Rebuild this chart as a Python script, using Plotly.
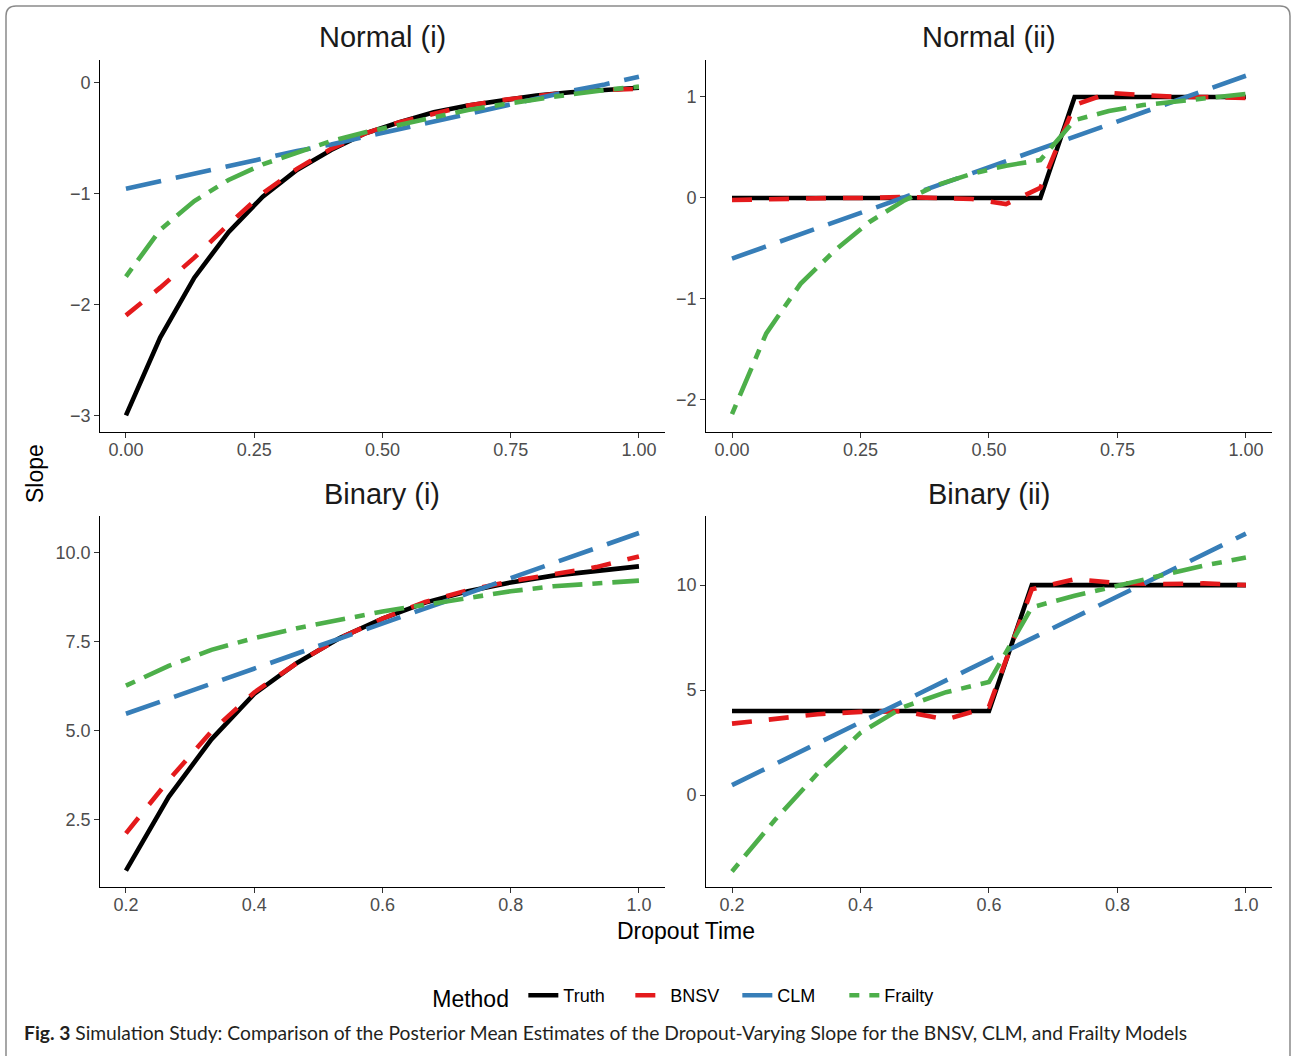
import plotly.graph_objects as go

# ---------------- data ----------------
x_normal = [0.0, 0.0667, 0.1333, 0.2, 0.2667, 0.3333, 0.4, 0.4667, 0.5333,
            0.6, 0.6667, 0.7333, 0.8, 0.8667, 0.9333, 1.0]
x_binary = [0.2, 0.2667, 0.3333, 0.4, 0.4667, 0.5333, 0.6, 0.6667, 0.7333,
            0.8, 0.8667, 0.9333, 1.0]

methods = ["Truth", "BNSV", "CLM", "Frailty"]

# Normal (i)
n1_truth = [-3.00, -2.30, -1.76, -1.35, -1.03, -0.79, -0.61, -0.46, -0.36,
            -0.27, -0.21, -0.16, -0.12, -0.09, -0.07, -0.05]
n1_bnsv = [-2.10, -1.85, -1.58, -1.28, -1.00, -0.78, -0.60, -0.46, -0.36,
           -0.28, -0.21, -0.16, -0.12, -0.09, -0.07, -0.06]
n1_clm = [-0.96, -0.89, -0.83, -0.76, -0.69, -0.62, -0.56, -0.49, -0.42,
          -0.35, -0.29, -0.22, -0.15, -0.08, -0.02, 0.05]
n1_frailty = [-1.75, -1.33, -1.07, -0.88, -0.74, -0.63, -0.53, -0.45, -0.38,
              -0.31, -0.25, -0.20, -0.15, -0.11, -0.07, -0.04]

# Normal (ii)
n2_truth = [0, 0, 0, 0, 0, 0, 0, 0, 0, 0, 1, 1, 1, 1, 1, 1]
n2_bnsv = [-0.02, -0.01, -0.01, 0.00, 0.00, 0.01, 0.00, -0.01, -0.06,
           0.10, 0.92, 1.04, 1.02, 1.00, 1.00, 0.99]
n2_clm = [-0.60, -0.48, -0.36, -0.24, -0.12, 0.00, 0.12, 0.24, 0.37,
          0.49, 0.61, 0.73, 0.85, 0.97, 1.09, 1.21]
n2_frailty = [-2.14, -1.34, -0.85, -0.52, -0.24, -0.03, 0.13, 0.24, 0.32,
              0.375, 0.77, 0.86, 0.92, 0.96, 1.00, 1.03]

# Binary (i)
b1_truth = [1.05, 3.13, 4.75, 6.03, 6.90, 7.60, 8.15, 8.60, 8.92, 9.17,
            9.36, 9.50, 9.62]
b1_bnsv = [2.10, 3.60, 4.97, 6.07, 6.90, 7.60, 8.15, 8.62, 8.95, 9.20,
           9.40, 9.60, 9.90]
b1_clm = [5.47, 5.89, 6.32, 6.74, 7.17, 7.59, 8.02, 8.44, 8.86, 9.29,
          9.71, 10.14, 10.56]
b1_frailty = [6.26, 6.82, 7.27, 7.60, 7.88, 8.12, 8.35, 8.54, 8.73, 8.92,
              9.06, 9.15, 9.22]

# Binary (ii)
b2_truth = [4, 4, 4, 4, 4, 4, 4, 10, 10, 10, 10, 10, 10]
b2_bnsv = [3.40, 3.64, 3.85, 3.96, 3.99, 3.60, 4.20, 9.80, 10.28, 10.10,
           10.05, 10.08, 10.00]
b2_clm = [0.47, 1.47, 2.47, 3.47, 4.46, 5.46, 6.46, 7.46, 8.46, 9.46,
          10.45, 11.45, 12.45]
b2_frailty = [-3.64, -1.19, 1.03, 2.96, 4.19, 4.90, 5.38, 8.94, 9.49, 9.97,
              10.44, 10.92, 11.31]

panel_titles = ["Normal (i)", "Normal (ii)", "Binary (i)", "Binary (ii)"]
normal_xticks = [0, 0.25, 0.5, 0.75, 1.0]
normal_xlabels = ["0.00", "0.25", "0.50", "0.75", "1.00"]
binary_xticks = [0.2, 0.4, 0.6, 0.8, 1.0]
binary_xlabels = ["0.2", "0.4", "0.6", "0.8", "1.0"]
n1_yticks = [-3, -2, -1, 0]
n1_ylabels = ["\u22123", "\u22122", "\u22121", "0"]
n2_yticks = [-2, -1, 0, 1]
n2_ylabels = ["\u22122", "\u22121", "0", "1"]
b1_yticks = [2.5, 5.0, 7.5, 10.0]
b1_ylabels = ["2.5", "5.0", "7.5", "10.0"]
b2_yticks = [0, 5, 10]
b2_ylabels = ["0", "5", "10"]

# ---------------- styles ----------------
W, H = 1292, 1056
FONT = "Liberation Sans, Arial, Helvetica, sans-serif"
colors = {"Truth": "#000000", "BNSV": "#E41A1C", "CLM": "#377EB8", "Frailty": "#4DAF4A"}
dashes = {"Truth": "solid", "BNSV": "20px,17px", "CLM": "36px,15px",
          "Frailty": "10px,10px,30px,10px"}
LW = 4.6

panels = [
    (x_normal, [n1_truth, n1_bnsv, n1_clm, n1_frailty], "x", "y"),
    (x_normal, [n2_truth, n2_bnsv, n2_clm, n2_frailty], "x2", "y2"),
    (x_binary, [b1_truth, b1_bnsv, b1_clm, b1_frailty], "x3", "y3"),
    (x_binary, [b2_truth, b2_bnsv, b2_clm, b2_frailty], "x4", "y4"),
]

fig = go.Figure()
for pi, (xs, series, xa, ya) in enumerate(panels):
    for m, ys in zip(methods, series):
        fig.add_trace(go.Scatter(
            x=xs, y=ys, mode="lines", name=m, xaxis=xa, yaxis=ya,
            line=dict(color=colors[m], width=LW, dash=dashes[m]),
            showlegend=(pi == 0), legendgroup=m,
        ))

def px_x(p):
    return p / W

def px_y(p):
    return 1 - p / H

left_dom = [px_x(100.3), px_x(664.6)]
right_dom = [px_x(706.3), px_x(1271.6)]
top_dom = [px_y(432), px_y(60)]
bot_dom = [px_y(887), px_y(516)]

axis_common = dict(
    showline=True, linecolor="#000000", linewidth=1.3,
    ticks="outside", ticklen=5, tickwidth=1.3, tickcolor="#333333",
    showgrid=False, zeroline=False,
    tickfont=dict(family=FONT, size=18, color="#4D4D4D"),
    fixedrange=True,
)
xaxis_common = dict(axis_common, ticklabelstandoff=-4)

fig.update_layout(
    width=W, height=H,
    margin=dict(l=0, r=0, t=0, b=0),
    paper_bgcolor="white", plot_bgcolor="white",
    xaxis=dict(domain=left_dom, anchor="y", range=[-0.05, 1.05],
               tickvals=normal_xticks, ticktext=normal_xlabels, **xaxis_common),
    yaxis=dict(domain=top_dom, anchor="x", range=[-3.15, 0.2],
               tickvals=n1_yticks, ticktext=n1_ylabels, **axis_common),
    xaxis2=dict(domain=right_dom, anchor="y2", range=[-0.05, 1.05],
                tickvals=normal_xticks, ticktext=normal_xlabels, **xaxis_common),
    yaxis2=dict(domain=top_dom, anchor="x2", range=[-2.317, 1.366],
                tickvals=n2_yticks, ticktext=n2_ylabels, **axis_common),
    xaxis3=dict(domain=left_dom, anchor="y3", range=[0.16, 1.04],
                tickvals=binary_xticks, ticktext=binary_xlabels, **xaxis_common),
    yaxis3=dict(domain=bot_dom, anchor="x3", range=[0.59, 11.04],
                tickvals=b1_yticks, ticktext=b1_ylabels, **axis_common),
    xaxis4=dict(domain=right_dom, anchor="y4", range=[0.16, 1.04],
                tickvals=binary_xticks, ticktext=binary_xlabels, **xaxis_common),
    yaxis4=dict(domain=bot_dom, anchor="x4", range=[-4.38, 13.29],
                tickvals=b2_yticks, ticktext=b2_ylabels, **axis_common),
    legend=dict(
        orientation="h", x=0.535, xanchor="center", y=px_y(997), yanchor="middle",
        title=dict(text="Method ", font=dict(family=FONT, size=23, color="#000000")),
        font=dict(family=FONT, size=18, color="#000000"),
        bgcolor="rgba(0,0,0,0)", itemwidth=30,
        entrywidth=62, entrywidthmode="pixels",
    ),
    showlegend=True,
)

annotations = []
title_pos = [((left_dom[0] + left_dom[1]) / 2, px_y(37)),
             ((right_dom[0] + right_dom[1]) / 2, px_y(37)),
             ((left_dom[0] + left_dom[1]) / 2, px_y(494)),
             ((right_dom[0] + right_dom[1]) / 2, px_y(494))]
for t, (ax, ay) in zip(panel_titles, title_pos):
    annotations.append(dict(text=t, x=ax, y=ay, xref="paper", yref="paper",
                            xanchor="center", yanchor="middle", showarrow=False,
                            font=dict(family=FONT, size=29, color="#1A1A1A")))
annotations.append(dict(text="Slope", x=px_x(35), y=px_y(474), xref="paper", yref="paper",
                        xanchor="center", yanchor="middle", showarrow=False, textangle=-90,
                        font=dict(family=FONT, size=23, color="#000000")))
annotations.append(dict(text="Dropout Time", x=px_x(686), y=px_y(931), xref="paper", yref="paper",
                        xanchor="center", yanchor="middle", showarrow=False,
                        font=dict(family=FONT, size=23, color="#000000")))
annotations.append(dict(
    text="<b>Fig. 3</b> Simulation Study: Comparison of the Posterior Mean Estimates of the "
         "Dropout-Varying Slope for the BNSV, CLM, and Frailty Models",
    x=px_x(22), y=px_y(1032), xref="paper", yref="paper",
    xanchor="left", yanchor="middle", showarrow=False,
    font=dict(family="Lato, Noto Sans, sans-serif", size=19.25, color="#231F20")))
fig.update_layout(annotations=annotations)

# outer rounded frame
r = 10
x0, x1 = 6, 1290
y0, y1 = 6, 1070
def P(xp, yp):
    return f"{xp / W:.5f},{1 - yp / H:.5f}"
path = (f"M {P(x0, y1)} L {P(x0, y0 + r)} Q {P(x0, y0)} {P(x0 + r, y0)} "
        f"L {P(x1 - r, y0)} Q {P(x1, y0)} {P(x1, y0 + r)} L {P(x1, y1)}")
fig.add_shape(type="path", path=path, xref="paper", yref="paper",
              line=dict(color="#8A8A8A", width=1.5), layer="below")

fig.write_html("out.html")
